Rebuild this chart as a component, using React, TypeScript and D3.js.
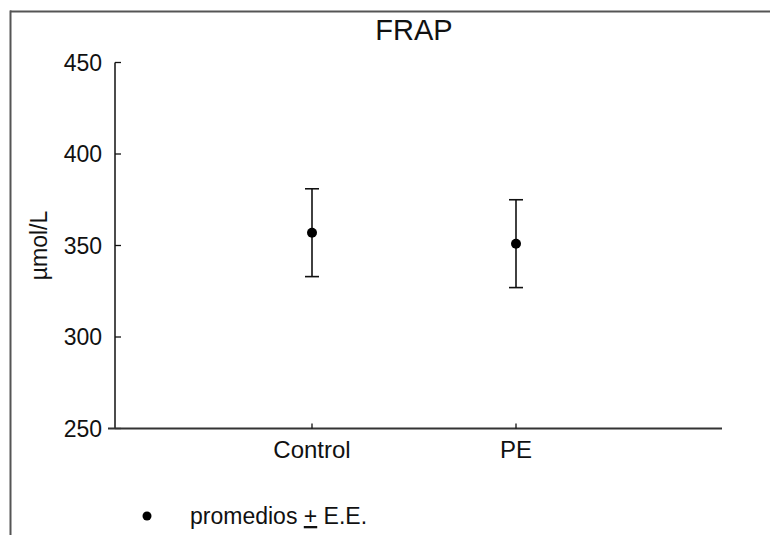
import React from "react";
import * as d3 from "d3";

const categories = ["Control", "PE"];
const means = [357, 351];
const errors = [24, 24];
const yTicks = [250, 300, 350, 400, 450];
const title = "FRAP";
const yLabel = "µmol/L";
const legendLabel = "promedios ";

const W = 770;
const H = 535;
const FONT = "'Liberation Sans', Arial, sans-serif";

export default function App() {
  const x = d3.scaleLinear().domain([0, 3]).range([108, 720]);
  const y = d3.scaleLinear().domain([250, 450]).range([428.5, 62.5]);
  const axisX = 115;
  const axisY = y(250);

  return (
    <svg
      width={W}
      height={H}
      style={{ position: "absolute", left: 0, top: 0, background: "#fff" }}
      fontFamily={FONT}
    >
      {/* frame */}
      <line x1={10} y1={11.5} x2={W} y2={11.5} stroke="#555" strokeWidth={2} />
      <line x1={10.5} y1={10.5} x2={10.5} y2={H} stroke="#555" strokeWidth={2} />

      <text x={414} y={40} textAnchor="middle" fontSize={29} fill="#111">
        {title}
      </text>

      {/* y axis */}
      <line x1={axisX} y1={y(450)} x2={axisX} y2={axisY} stroke="#111" strokeWidth={1.5} />
      {yTicks.map((t) => (
        <g key={t}>
          <line x1={axisX} x2={axisX + 6} y1={y(t)} y2={y(t)} stroke="#111" strokeWidth={1.3} />
          <text x={102} y={y(t)} dy="0.35em" textAnchor="end" fontSize={23} fill="#111">
            {t}
          </text>
        </g>
      ))}
      <text
        transform={`translate(47,${y(350)}) rotate(-90)`}
        textAnchor="middle"
        fontSize={23}
        fill="#111"
      >
        {yLabel}
      </text>

      {/* x axis */}
      <line x1={x(0)} y1={axisY} x2={722} y2={axisY} stroke="#333" strokeWidth={1.8} />
      {categories.map((c, i) => (
        <g key={c}>
          <line x1={x(i + 1)} x2={x(i + 1)} y1={axisY} y2={axisY - 5} stroke="#111" strokeWidth={1.3} />
          <text x={x(i + 1)} y={458} textAnchor="middle" fontSize={24} fill="#111">
            {c}
          </text>
        </g>
      ))}

      {/* error bars and points */}
      {categories.map((c, i) => {
        const cx = x(i + 1);
        const top = y(means[i] + errors[i]);
        const bot = y(means[i] - errors[i]);
        return (
          <g key={c + "-pt"}>
            <line x1={cx} x2={cx} y1={top} y2={bot} stroke="#111" strokeWidth={1.6} />
            <line x1={cx - 7} x2={cx + 7} y1={top} y2={top} stroke="#111" strokeWidth={1.6} />
            <line x1={cx - 7} x2={cx + 7} y1={bot} y2={bot} stroke="#111" strokeWidth={1.6} />
            <circle cx={cx} cy={y(means[i])} r={5} fill="#000" />
          </g>
        );
      })}

      {/* legend */}
      <circle cx={147} cy={516} r={4.5} fill="#000" />
      <text x={190} y={524} fontSize={23} fill="#111">
        {legendLabel}
        <tspan textDecoration="underline">+</tspan>
        {" E.E."}
      </text>
    </svg>
  );
}
